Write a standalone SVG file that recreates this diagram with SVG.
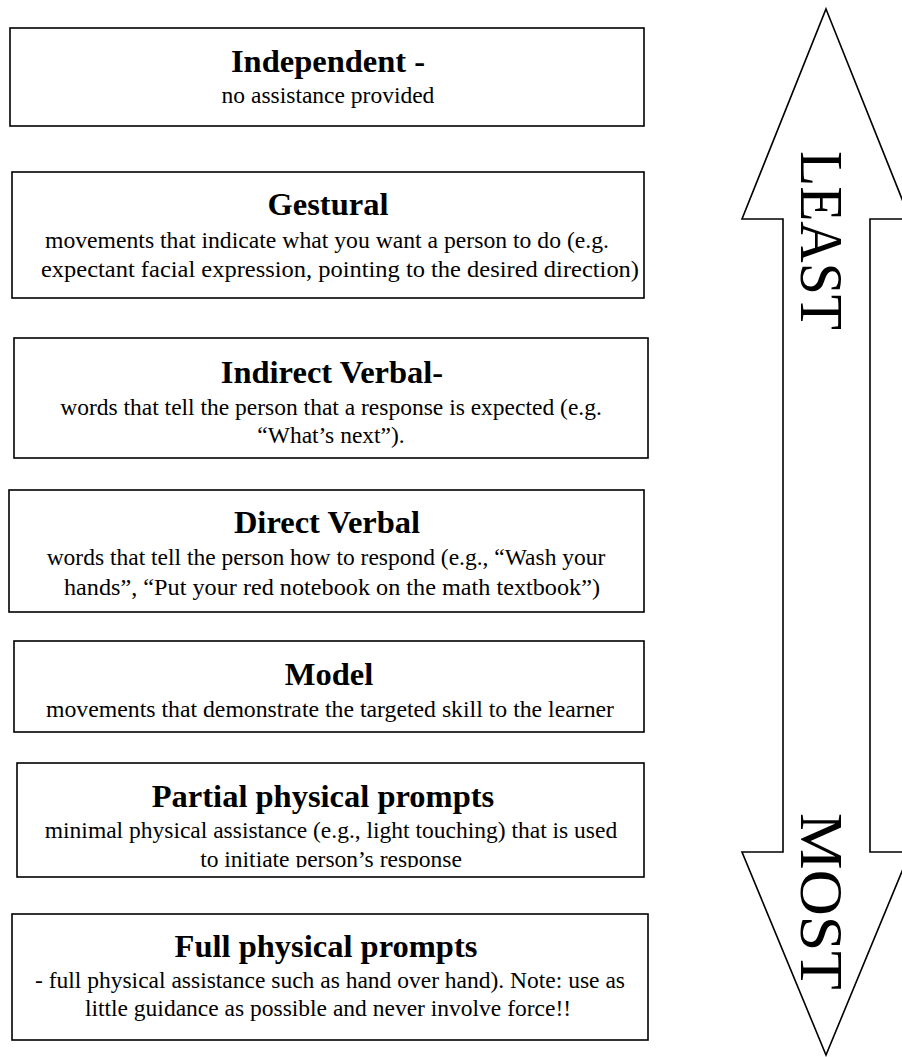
<svg xmlns="http://www.w3.org/2000/svg" width="902" height="1057" viewBox="0 0 902 1057">
<style>
.box{fill:#fff;stroke:#000;stroke-width:1.6}
.t{font-family:"Liberation Serif","Times New Roman",serif;font-weight:bold;font-size:32.5px;fill:#000;text-anchor:middle}
.b{font-family:"Liberation Serif","Times New Roman",serif;font-size:23.5px;fill:#000;text-anchor:middle}
.big{font-family:"Liberation Serif","Times New Roman",serif;font-size:62px;fill:#000}
.arrow{fill:#fff;stroke:#000;stroke-width:1.6;stroke-linejoin:miter}
</style>
<defs>
<clipPath id="clip6"><rect x="0" y="760" width="660" height="107.5"/></clipPath>
</defs>
<rect width="902" height="1057" fill="#fff"/>
<g id="connectors">
<polygon class="arrow" points="826,9 910,219 870,219 870,852 910,852 826,1055 742,852 783,852 783,219 742,219"/>
<text class="big" transform="translate(801,151) rotate(90)" textLength="179" lengthAdjust="spacingAndGlyphs">LEAST</text>
<text class="big" transform="translate(801,813) rotate(90)" textLength="177" lengthAdjust="spacingAndGlyphs">MOST</text>
</g>
<g id="n1">
<rect class="box" x="10" y="28" width="634" height="98"/>
<text class="t" x="328" y="72">Independent -</text>
<text class="b" x="328" y="103">no assistance provided</text>
</g>
<g id="n2">
<rect class="box" x="12" y="172" width="632" height="126"/>
<text class="t" x="328" y="215">Gestural</text>
<text class="b" x="327" y="248" textLength="564" lengthAdjust="spacingAndGlyphs">movements that indicate what you want a person to do (e.g.</text>
<text class="b" x="340" y="277" textLength="598" lengthAdjust="spacingAndGlyphs">expectant facial expression, pointing to the desired direction)</text>
</g>
<g id="n3">
<rect class="box" x="14" y="338" width="634" height="120"/>
<text class="t" x="332" y="383">Indirect Verbal-</text>
<text class="b" x="331" y="415">words that tell the person that a response is expected (e.g.</text>
<text class="b" x="331" y="443">“What’s next”).</text>
</g>
<g id="n4">
<rect class="box" x="9" y="490" width="635" height="122"/>
<text class="t" x="327" y="533">Direct Verbal</text>
<text class="b" x="326" y="565">words that tell the person how to respond (e.g., “Wash your</text>
<text class="b" x="332" y="595" textLength="536" lengthAdjust="spacingAndGlyphs">hands”, “Put your red notebook on the math textbook”)</text>
</g>
<g id="n5">
<rect class="box" x="14" y="641" width="630" height="91"/>
<text class="t" x="329" y="685">Model</text>
<text class="b" x="330" y="717" textLength="568" lengthAdjust="spacingAndGlyphs">movements that demonstrate the targeted skill to the learner</text>
</g>
<g id="n6">
<rect class="box" x="17" y="763" width="627" height="114"/>
<text class="t" x="323" y="807">Partial physical prompts</text>
<text class="b" x="331" y="838">minimal physical assistance (e.g., light touching) that is used</text>
<text class="b" x="331" y="867" clip-path="url(#clip6)">to initiate person’s response</text>
</g>
<g id="n7">
<rect class="box" x="12" y="914" width="636" height="126"/>
<text class="t" x="326" y="957">Full physical prompts</text>
<text class="b" x="330" y="988">- full physical assistance such as hand over hand). Note: use as</text>
<text class="b" x="328" y="1016">little guidance as possible and never involve force!!</text>
</g>
</svg>
